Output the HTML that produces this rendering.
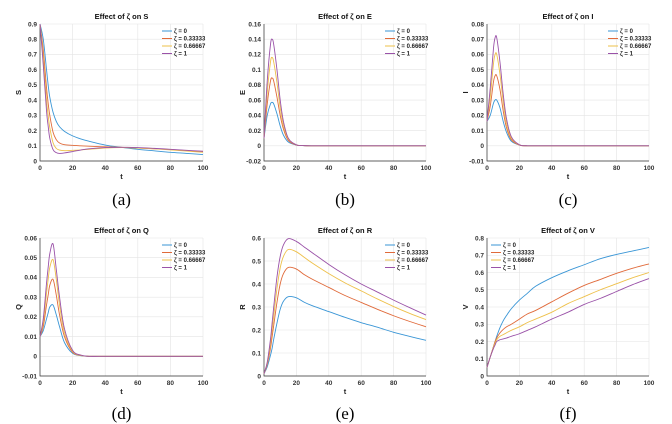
<!DOCTYPE html>
<html><head><meta charset="utf-8">
<style>
body{margin:0;background:#fff;width:672px;height:424px;overflow:hidden}
svg{display:block;font-family:"Liberation Sans",sans-serif}
.cap{font-family:"Liberation Serif",serif;font-size:17px;fill:#000}
</style></head><body>
<svg id="fig" width="672" height="424" viewBox="0 0 672 424"></svg>
<script>
const tvals=[0,2,4,5,6,8,10,12,15,20,25,30,40,50,60,70,80,90,100];
const seriesNames=["ζ = 0","ζ = 0.33333","ζ = 0.66667","ζ = 1"];
const S0=[0.9,0.8,0.6,0.5,0.42,0.32,0.26,0.225,0.195,0.165,0.145,0.13,0.105,0.09,0.077,0.067,0.057,0.05,0.042];
const S1=[0.9,0.73,0.48,0.38,0.3,0.19,0.14,0.118,0.107,0.103,0.1,0.097,0.093,0.09,0.085,0.08,0.075,0.068,0.062];
const S2=[0.9,0.68,0.4,0.3,0.22,0.12,0.083,0.072,0.068,0.07,0.073,0.077,0.085,0.088,0.085,0.08,0.073,0.065,0.057];
const S3=[0.9,0.63,0.33,0.23,0.15,0.075,0.055,0.05,0.053,0.062,0.072,0.08,0.088,0.09,0.088,0.083,0.077,0.07,0.064];
const E0=[0.01,0.04,0.055,0.057,0.055,0.042,0.026,0.014,0.005,0.001,0.0002,0,0,0,0,0,0,0,0];
const E1=[0.01,0.055,0.085,0.089,0.085,0.064,0.04,0.022,0.007,0.001,0.0002,0,0,0,0,0,0,0,0];
const E2=[0.01,0.07,0.11,0.116,0.11,0.083,0.05,0.027,0.009,0.0012,0.0002,0,0,0,0,0,0,0,0];
const E3=[0.01,0.085,0.133,0.14,0.133,0.1,0.06,0.032,0.01,0.0013,0.0002,0,0,0,0,0,0,0,0];
const I0=[0.016,0.02,0.028,0.03,0.03,0.025,0.016,0.009,0.003,0.0005,0,0,0,0,0,0,0,0,0];
const I1=[0.016,0.026,0.042,0.046,0.046,0.037,0.023,0.012,0.004,0.0005,0,0,0,0,0,0,0,0,0];
const I2=[0.016,0.032,0.054,0.06,0.06,0.047,0.029,0.015,0.005,0.0006,0,0,0,0,0,0,0,0,0];
const I3=[0.016,0.038,0.064,0.071,0.071,0.055,0.034,0.018,0.006,0.0007,0,0,0,0,0,0,0,0,0];
const Q0=[0.01,0.013,0.019,0.022,0.025,0.026,0.021,0.015,0.007,0.0015,0.0003,0,0,0,0,0,0,0,0];
const Q1=[0.01,0.015,0.026,0.031,0.036,0.039,0.031,0.021,0.01,0.002,0.0004,0,0,0,0,0,0,0,0];
const Q2=[0.01,0.017,0.032,0.039,0.045,0.049,0.039,0.026,0.012,0.0025,0.0005,0,0,0,0,0,0,0,0];
const Q3=[0.01,0.019,0.037,0.045,0.052,0.057,0.044,0.03,0.014,0.003,0.0006,0,0,0,0,0,0,0,0];
const R0=[0.01,0.04,0.09,0.12,0.16,0.23,0.29,0.325,0.345,0.34,0.32,0.305,0.28,0.255,0.232,0.212,0.19,0.172,0.155];
const R1=[0.01,0.05,0.12,0.17,0.22,0.32,0.4,0.445,0.472,0.465,0.44,0.42,0.385,0.35,0.32,0.29,0.262,0.237,0.214];
const R2=[0.01,0.055,0.14,0.2,0.26,0.38,0.47,0.52,0.55,0.54,0.515,0.49,0.445,0.405,0.37,0.335,0.302,0.272,0.245];
const R3=[0.01,0.06,0.16,0.23,0.3,0.43,0.52,0.57,0.597,0.585,0.56,0.535,0.485,0.44,0.4,0.365,0.33,0.297,0.265];
const V0=[0.05,0.11,0.17,0.2,0.23,0.28,0.32,0.35,0.39,0.44,0.48,0.52,0.57,0.61,0.645,0.68,0.705,0.725,0.745];
const V1=[0.05,0.11,0.17,0.2,0.22,0.25,0.27,0.285,0.3,0.33,0.36,0.38,0.43,0.48,0.525,0.56,0.595,0.625,0.65];
const V2=[0.05,0.11,0.165,0.19,0.21,0.23,0.24,0.25,0.265,0.285,0.31,0.33,0.37,0.42,0.46,0.5,0.535,0.57,0.6];
const V3=[0.05,0.11,0.16,0.18,0.2,0.21,0.215,0.22,0.23,0.245,0.265,0.285,0.33,0.37,0.415,0.45,0.49,0.53,0.565];
const xTicks=[0,20,40,60,80,100];
const ticksS=[0,0.1,0.2,0.3,0.4,0.5,0.6,0.7,0.8,0.9];
const ticksE=[-0.02,0,0.02,0.04,0.06,0.08,0.1,0.12,0.14,0.16];
const ticksI=[-0.01,0,0.01,0.02,0.03,0.04,0.05,0.06,0.07,0.08];
const ticksQ=[-0.01,0,0.01,0.02,0.03,0.04,0.05,0.06];
const ticksR=[0,0.1,0.2,0.3,0.4,0.5,0.6];
const ticksV=[0,0.1,0.2,0.3,0.4,0.5,0.6,0.7,0.8];
const colors=["#3a96d6","#e06a3a","#eec04a","#9a52a8"];
const NS="http://www.w3.org/2000/svg";
const svg=document.getElementById("fig");
function mk(tag,attrs,parent,text){const e=document.createElementNS(NS,tag);for(const k in attrs)e.setAttribute(k,attrs[k]);if(text!==undefined)e.textContent=text;(parent||svg).appendChild(e);return e;}
function pathFrom(pts){let d="M"+pts[0][0].toFixed(2)+","+pts[0][1].toFixed(2);for(let i=0;i<pts.length-1;i++){const p0=pts[Math.max(0,i-1)],p1=pts[i],p2=pts[i+1],p3=pts[Math.min(pts.length-1,i+2)];const c1=[p1[0]+(p2[0]-p0[0])/6,p1[1]+(p2[1]-p0[1])/6],c2=[p2[0]-(p3[0]-p1[0])/6,p2[1]-(p3[1]-p1[1])/6];d+="C"+c1.map(v=>v.toFixed(2))+" "+c2.map(v=>v.toFixed(2))+" "+p2.map(v=>v.toFixed(2));}return d;}
const panels=[
 {id:"s",x0:40,x1:203,yT:24,yB:161,ticks:ticksS,title:"S",data:[S0,S1,S2,S3],leg:"r",cap:"(a)",capY:205},
 {id:"e",x0:264,x1:426,yT:24,yB:161,ticks:ticksE,title:"E",data:[E0,E1,E2,E3],leg:"r",cap:"(b)",capY:205},
 {id:"i",x0:487,x1:649,yT:24,yB:161,ticks:ticksI,title:"I",data:[I0,I1,I2,I3],leg:"r",cap:"(c)",capY:205},
 {id:"q",x0:40,x1:203,yT:238,yB:376,ticks:ticksQ,title:"Q",data:[Q0,Q1,Q2,Q3],leg:"r",cap:"(d)",capY:419},
 {id:"r",x0:264,x1:426,yT:238,yB:376,ticks:ticksR,title:"R",data:[R0,R1,R2,R3],leg:"r",cap:"(e)",capY:419},
 {id:"v",x0:487,x1:649,yT:238,yB:376,ticks:ticksV,title:"V",data:[V0,V1,V2,V3],leg:"l",cap:"(f)",capY:419}
];
panels.forEach(p=>{
 const g=mk("g",{});
 
 
 const ymin=p.ticks[0],ymax=p.ticks[p.ticks.length-1];
 const X=t=>p.x0+(t-0)/100*(p.x1-p.x0);
 const Y=v=>p.yB-(v-ymin)/(ymax-ymin)*(p.yB-p.yT);
 p.ticks.forEach(v=>{const y=Y(v);
  const gl=mk("line",{x1:p.x0,x2:p.x1,y1:y,y2:y,stroke:"#e4e4e4","stroke-width":0.6},g);
  
  const tl=mk("text",{x:p.x0-3,y:y+2.3,"font-size":6.5,"font-weight":"bold","text-anchor":"end",fill:"#333"},g,String(v));
  
 });
 xTicks.forEach(v=>{const x=X(v);
  const gl=mk("line",{x1:x,x2:x,y1:p.yT,y2:p.yB,stroke:"#e4e4e4","stroke-width":0.6},g);
  
  const tl=mk("text",{x:x,y:p.yB+9,"font-size":6.5,"font-weight":"bold","text-anchor":"middle",fill:"#333"},g,String(v));
  
 });
 const ax=mk("path",{d:`M${p.x0},${p.yT}V${p.yB}H${p.x1}`,fill:"none",stroke:"#333","stroke-width":0.7},g);
 
 const ti=mk("text",{x:(p.x0+p.x1)/2,y:p.yT-5,"font-size":7.5,"font-weight":"bold","text-anchor":"middle",fill:"#111"},g,"Effect of ζ on "+p.title);
 
 const xl=mk("text",{x:(p.x0+p.x1)/2,y:p.yB+18,"font-size":7.5,"font-weight":"bold","text-anchor":"middle",fill:"#222"},g,"t");
 
 const yc=(p.yT+p.yB)/2;
 const yl=mk("text",{x:p.x0-19,y:yc,"font-size":7.5,"font-weight":"bold","text-anchor":"middle",fill:"#222",transform:`rotate(-90 ${p.x0-19} ${yc})`},g,p.title);
 
 p.data.forEach((arr,k)=>{
  const pts=tvals.map((t,i)=>[X(t),Y(arr[i])]);
  const ln=mk("path",{d:pathFrom(pts),fill:"none",stroke:colors[k],"stroke-width":0.9},g);
  
 });
 const lx=p.leg==="r"?p.x1-41:p.x0+4;
 seriesNames.forEach((nm,k)=>{const y=p.yT+7+k*7.5;
  const le=mk("g",{},g);
  
  mk("line",{x1:lx,x2:lx+10,y1:y,y2:y,stroke:colors[k],"stroke-width":1},le);
  mk("text",{x:lx+12,y:y+2.2,"font-size":6,"font-weight":"bold",fill:"#222"},le,nm);
 });
 const c=mk("text",{x:(p.x0+p.x1)/2,y:p.capY,"text-anchor":"middle",class:"cap"},g,p.cap);
 
});
</script>
</body></html>
